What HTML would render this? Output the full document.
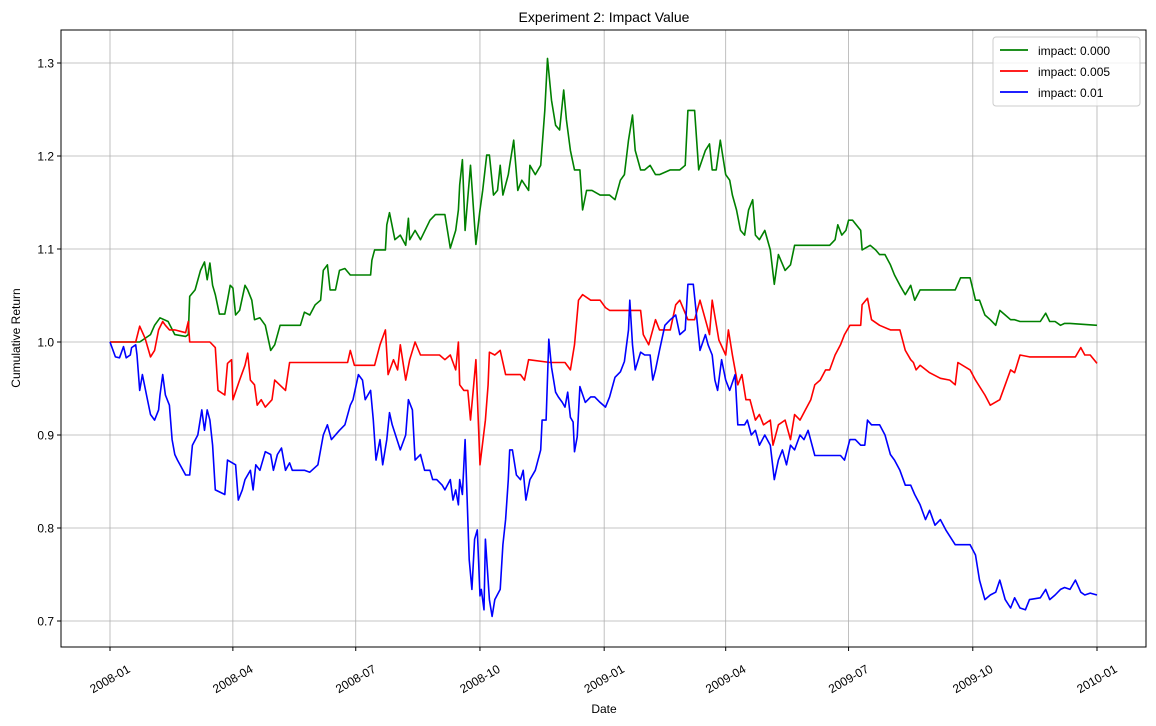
<!DOCTYPE html>
<html><head><meta charset="utf-8"><style>
body{margin:0;background:#fff;}
svg{display:block;font-family:"Liberation Sans","DejaVu Sans",sans-serif;}
</style></head><body>
<svg id="chart" width="1156" height="726" xmlns="http://www.w3.org/2000/svg">
<rect x="0" y="0" width="1156" height="726" fill="#fff"/>
<text x="604" y="22" text-anchor="middle" font-size="14">Experiment 2: Impact Value</text>
<text x="604" y="713" text-anchor="middle" font-size="12">Date</text>
<text x="20" y="338" text-anchor="middle" font-size="12" transform="rotate(-90 20 338)">Cumulative Return</text>
<g id="grid"></g>
<g id="ticks"></g>
<g id="series"></g>
<rect x="61" y="30" width="1085" height="617" fill="none" stroke="#000" stroke-width="1"/>
<g>
<rect x="993" y="37" width="147" height="69" rx="3" fill="#fff" fill-opacity="0.8" stroke="#ccc"/>
<line x1="1000" y1="50" x2="1028" y2="50" stroke="green" stroke-width="1.8"/>
<text x="1038" y="55" font-size="12">impact: 0.000</text>
<line x1="1000" y1="71" x2="1028" y2="71" stroke="red" stroke-width="1.8"/>
<text x="1038" y="76" font-size="12">impact: 0.005</text>
<line x1="1000" y1="92" x2="1028" y2="92" stroke="blue" stroke-width="1.8"/>
<text x="1038" y="97" font-size="12">impact: 0.01</text>
</g>
</svg>
<script>
const xTickDays=[0,91,182,274,366,456,547,639,731];
const xTickLabels=["2008-01","2008-04","2008-07","2008-10","2009-01","2009-04","2009-07","2009-10","2010-01"];
const yTicks=[0.7,0.8,0.9,1.0,1.1,1.2,1.3];
const greenDays=[0,22,30,33,37,43,48,56,58,59,63,67,70,72,74,76,78,81,85,87,89,91,93,96,100,102,105,107,111,115,119,122,126,133,141,144,148,152,156,158,161,163,167,170,174,178,185,193,194,196,200,204,205,207,211,215,219,221,222,226,230,237,241,248,252,256,258,259,261,263,267,271,274,276,279,281,284,287,289,291,295,296,299,302,305,310,311,315,319,322,324,327,330,333,336,338,341,344,348,350,353,357,363,370,374,378,381,384,387,389,393,396,400,404,407,415,422,426,428,433,436,441,444,446,449,452,456,459,461,464,467,470,473,476,478,481,485,489,492,495,500,504,507,511,519,533,537,539,542,545,547,550,556,557,563,567,570,574,578,581,585,589,593,596,600,604,607,611,615,619,622,626,630,637,641,644,648,652,656,659,663,667,670,674,689,693,696,700,704,707,711,731];
const greenVals=[1.000,1.000,1.008,1.018,1.026,1.022,1.008,1.006,1.008,1.049,1.056,1.077,1.086,1.067,1.085,1.061,1.051,1.030,1.030,1.045,1.061,1.058,1.029,1.034,1.061,1.056,1.045,1.024,1.026,1.018,0.991,0.997,1.018,1.018,1.018,1.032,1.029,1.040,1.045,1.077,1.083,1.056,1.056,1.077,1.079,1.072,1.072,1.072,1.088,1.099,1.099,1.099,1.126,1.139,1.110,1.115,1.104,1.133,1.110,1.120,1.110,1.131,1.137,1.137,1.101,1.120,1.142,1.169,1.196,1.120,1.190,1.105,1.142,1.163,1.201,1.201,1.158,1.163,1.190,1.158,1.180,1.190,1.217,1.163,1.174,1.163,1.190,1.180,1.190,1.249,1.305,1.260,1.233,1.228,1.271,1.239,1.206,1.185,1.185,1.142,1.163,1.163,1.158,1.158,1.153,1.174,1.180,1.217,1.244,1.206,1.185,1.185,1.190,1.180,1.180,1.185,1.185,1.190,1.249,1.249,1.185,1.206,1.213,1.185,1.185,1.217,1.180,1.174,1.158,1.142,1.120,1.115,1.142,1.153,1.115,1.110,1.120,1.099,1.062,1.094,1.077,1.083,1.104,1.104,1.104,1.104,1.110,1.126,1.115,1.120,1.131,1.131,1.120,1.099,1.104,1.099,1.094,1.094,1.083,1.072,1.061,1.051,1.061,1.045,1.056,1.056,1.056,1.056,1.056,1.056,1.056,1.056,1.069,1.069,1.045,1.045,1.029,1.024,1.018,1.034,1.029,1.024,1.024,1.022,1.022,1.031,1.022,1.022,1.018,1.020,1.020,1.018];
const redDays=[0,19,22,26,30,33,36,39,41,44,48,56,58,59,74,78,80,85,87,90,91,96,100,102,104,107,109,112,115,120,122,130,133,141,163,176,178,181,196,200,204,206,210,213,215,219,222,226,230,237,244,248,252,256,258,259,262,265,267,269,271,274,278,280,281,285,289,293,296,304,307,310,326,337,341,344,347,350,356,363,367,370,381,393,395,399,404,407,415,419,422,428,433,437,441,444,446,451,456,458,461,465,468,471,474,478,481,484,489,491,495,500,504,507,511,515,519,522,526,530,533,537,541,544,548,556,557,561,564,570,578,585,589,593,595,597,600,607,615,622,626,628,637,641,648,652,659,663,667,670,674,681,689,704,715,719,722,726,731];
const redVals=[1.000,1.000,1.017,1.004,0.984,0.991,1.013,1.022,1.018,1.013,1.013,1.010,1.022,1.000,1.000,0.994,0.948,0.943,0.977,0.981,0.938,0.959,0.975,0.988,0.959,0.954,0.932,0.938,0.930,0.938,0.959,0.948,0.978,0.978,0.978,0.978,0.991,0.975,0.975,0.997,1.013,0.965,0.981,0.970,0.997,0.959,0.981,1.000,0.986,0.986,0.986,0.981,0.986,0.970,1.000,0.954,0.948,0.948,0.916,0.948,0.981,0.868,0.916,0.954,0.989,0.986,0.991,0.965,0.965,0.965,0.959,0.981,0.978,0.978,0.970,0.997,1.045,1.051,1.045,1.045,1.037,1.034,1.034,1.034,1.008,0.997,1.024,1.013,1.013,1.040,1.045,1.024,1.024,1.045,1.024,1.008,1.045,1.002,0.986,1.013,0.986,0.954,0.965,0.938,0.938,0.916,0.922,0.911,0.916,0.889,0.911,0.916,0.895,0.922,0.916,0.927,0.938,0.954,0.959,0.970,0.970,0.986,0.997,1.008,1.018,1.018,1.040,1.047,1.024,1.018,1.013,1.013,0.991,0.981,0.978,0.970,0.975,0.967,0.961,0.959,0.954,0.978,0.970,0.959,0.943,0.932,0.938,0.954,0.970,0.967,0.986,0.984,0.984,0.984,0.984,0.994,0.986,0.986,0.977];
const blueDays=[0,4,7,10,12,15,16,19,20,22,24,27,30,33,36,37,39,41,44,46,48,50,56,59,61,65,68,70,72,74,76,78,85,87,93,95,98,100,104,106,108,111,115,119,121,124,127,130,133,135,139,144,148,154,158,161,164,170,174,178,180,184,187,189,193,195,197,200,202,205,207,209,215,219,221,224,226,230,233,237,239,242,246,248,252,254,256,258,259,261,263,266,268,270,272,274,275,277,278,281,283,285,289,291,293,295,296,298,301,304,306,308,311,315,319,320,323,325,327,330,332,335,337,339,341,343,344,346,348,352,356,359,363,367,370,374,378,381,384,385,387,389,393,396,400,402,404,407,411,415,419,422,426,428,432,434,437,441,443,446,448,450,453,456,459,463,465,470,472,475,478,481,485,489,492,495,498,501,504,507,511,514,517,522,533,541,544,548,552,556,559,561,564,570,574,578,581,585,589,593,596,600,604,607,611,615,619,626,630,633,637,641,644,648,652,656,659,663,667,670,674,678,681,689,693,696,700,704,707,711,715,719,722,726,731];
const blueVals=[1.000,0.984,0.983,0.995,0.983,0.986,0.994,0.997,0.986,0.948,0.965,0.943,0.922,0.916,0.927,0.943,0.965,0.943,0.932,0.895,0.879,0.873,0.857,0.857,0.889,0.900,0.927,0.905,0.927,0.916,0.889,0.841,0.836,0.873,0.868,0.830,0.841,0.852,0.862,0.841,0.868,0.862,0.882,0.879,0.862,0.879,0.886,0.862,0.870,0.862,0.862,0.862,0.860,0.868,0.900,0.911,0.895,0.905,0.911,0.932,0.938,0.965,0.959,0.938,0.948,0.916,0.873,0.895,0.868,0.895,0.924,0.911,0.884,0.900,0.938,0.927,0.873,0.879,0.862,0.862,0.852,0.852,0.846,0.841,0.852,0.830,0.841,0.825,0.852,0.836,0.895,0.766,0.734,0.788,0.798,0.727,0.734,0.712,0.788,0.723,0.705,0.723,0.734,0.782,0.809,0.852,0.884,0.884,0.857,0.852,0.862,0.830,0.852,0.862,0.884,0.916,0.916,1.003,0.973,0.946,0.941,0.935,0.930,0.946,0.919,0.914,0.882,0.898,0.952,0.935,0.941,0.941,0.935,0.930,0.941,0.962,0.968,0.979,1.013,1.045,0.997,0.970,0.989,0.986,0.986,0.959,0.970,0.991,1.018,1.024,1.029,1.008,1.013,1.062,1.062,1.034,0.991,1.008,0.997,0.986,0.959,0.948,0.981,0.959,0.948,0.965,0.911,0.911,0.916,0.900,0.905,0.889,0.900,0.889,0.852,0.873,0.884,0.868,0.889,0.884,0.900,0.895,0.905,0.878,0.878,0.878,0.873,0.895,0.895,0.889,0.889,0.916,0.911,0.911,0.900,0.879,0.873,0.862,0.846,0.846,0.836,0.825,0.809,0.819,0.803,0.809,0.798,0.782,0.782,0.782,0.782,0.771,0.744,0.723,0.728,0.731,0.744,0.723,0.714,0.725,0.714,0.712,0.723,0.725,0.734,0.723,0.728,0.734,0.736,0.734,0.744,0.731,0.728,0.730,0.728];

const NS="http://www.w3.org/2000/svg";
function xS(d){return 110+d*(987/731);}
function yS(v){return 342-(v-1.0)*930;}
const grid=document.getElementById('grid'),ticks=document.getElementById('ticks'),series=document.getElementById('series');
function mk(tag,attrs,parent){const e=document.createElementNS(NS,tag);for(const k in attrs)e.setAttribute(k,attrs[k]);parent.appendChild(e);return e;}
xTickDays.forEach((d,i)=>{
  const x=xS(d);
  const g=mk('line',{x1:x,y1:30,x2:x,y2:647,stroke:'#b0b0b0','stroke-width':0.8},grid);
  
  
  const t=mk('line',{x1:x,y1:647,x2:x,y2:651,stroke:'#000'},ticks);
  
  
  const lab=mk('text',{x:x,y:683,'font-size':12,'text-anchor':'middle',transform:'rotate(-30 '+x+' 679)'},ticks);
  lab.textContent=xTickLabels[i];
  
  
});
yTicks.forEach(v=>{
  const y=yS(v);
  const g=mk('line',{x1:61,y1:y,x2:1146,y2:y,stroke:'#b0b0b0','stroke-width':0.8},grid);
  
  
  const t=mk('line',{x1:57,y1:y,x2:61,y2:y,stroke:'#000'},ticks);
  
  
  const lab=mk('text',{x:54,y:y+4.5,'font-size':12,'text-anchor':'end'},ticks);
  lab.textContent=v.toFixed(1);
  
  
});
function line(days,vals,color,name){
  const pts=days.map((d,i)=>xS(d).toFixed(1)+','+yS(vals[i]).toFixed(1)).join(' ');
  const p=mk('polyline',{points:pts,fill:'none',stroke:color,'stroke-width':1.6,'stroke-linejoin':'round'},series);
  
  
}
line(greenDays,greenVals,'green','line-impact-0');
line(redDays,redVals,'red','line-impact-0005');
line(blueDays,blueVals,'blue','line-impact-001');
</script>
</body></html>
